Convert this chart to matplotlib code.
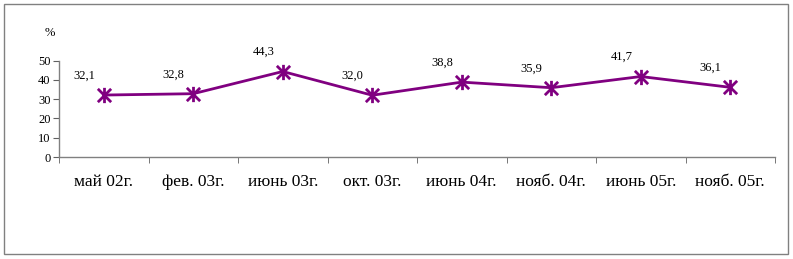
import matplotlib
matplotlib.use("Agg")
import matplotlib.pyplot as plt
from matplotlib.patches import Rectangle
from matplotlib.path import Path
import numpy as np

categories = ["май 02г.", "фев. 03г.", "июнь 03г.", "окт. 03г.", "июнь 04г.", "нояб. 04г.", "июнь 05г.", "нояб. 05г."]
values = [32.1, 32.8, 44.3, 32.0, 38.8, 35.9, 41.7, 36.1]
yticks = [0, 10, 20, 30, 40, 50]

plt.rcParams['font.family'] = ['Liberation Serif', 'DejaVu Serif']

# Excel-style star marker: X plus vertical bar
star = Path([(-1, -1), (1, 1), (-1, 1), (1, -1), (0, -1.15), (0, 1.15)],
            [Path.MOVETO, Path.LINETO, Path.MOVETO, Path.LINETO, Path.MOVETO, Path.LINETO])

fig = plt.figure(figsize=(7.93, 2.59), dpi=100)
fig.patches.append(Rectangle((4/793, 5/259), 784/793, 250/259, transform=fig.transFigure,
                             fill=False, edgecolor='#808080', linewidth=1.0))

ax = fig.add_axes([59/793, 1-157/259, (775-59)/793, (157-60.5)/259])
x = np.arange(len(categories))
ax.plot(x, values, color='#800080', linewidth=2, marker=star, markersize=11,
        markeredgewidth=2, markeredgecolor='#800080', markerfacecolor='none', clip_on=False)

for xi, v in zip(x, values):
    ax.annotate(f"{v:.1f}".replace('.', ','), (xi, v), xytext=(-14, 14), textcoords='offset points',
                ha='center', va='center', fontsize=9)

ax.set_xlim(-0.5, len(categories) - 0.5)
ax.set_ylim(0, 50)
ax.set_yticks(yticks)
ax.set_yticklabels([str(t) for t in yticks], fontsize=9)
ax.set_xticks(x)
ax.set_xticklabels(categories, fontsize=12.5)
ax.set_xticks(np.arange(-0.5, len(categories)), minor=True)
ax.tick_params(axis='x', which='major', length=0, pad=12)
ax.tick_params(axis='x', which='minor', length=4, direction='out', color='#606060')
ax.tick_params(axis='y', length=4, direction='out', color='#606060', pad=2)
for s in ['top', 'right']:
    ax.spines[s].set_visible(False)
for s in ['left', 'bottom']:
    ax.spines[s].set_color('#808080')
    ax.spines[s].set_linewidth(1)

fig.text(50/793, 1-33/259, "%", fontsize=9, ha='center', va='center')

fig.savefig("out.png", dpi=100)
